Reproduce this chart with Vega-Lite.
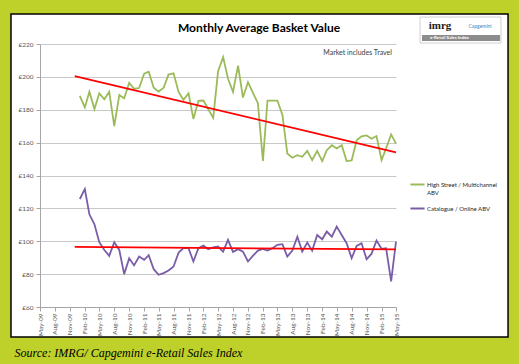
{
  "$schema": "https://vega.github.io/schema/vega-lite/v6.json",
  "width": 356,
  "height": 263,
  "autosize": "none",
  "padding": {"left": 40, "top": 44, "right": 123, "bottom": 57},
  "background": "white",
  "config": {"view": {"stroke": null}, "font": "Lato", "axis": {"labelOverlap": false, "labelBound": false, "labelFlush": false}},
  "title": {"text": "Monthly Average Basket Value", "font": "Lato", "fontSize": 12, "fontWeight": "bold", "color": "#000000", "anchor": "middle", "frame": "group", "dx": 41, "offset": -81},
  "datasets": {
    "abv": [
      {"date": "2010-01-01T00:00", "series": "High Street / Multichannel ABV", "value": 188.4},
      {"date": "2010-02-01T00:00", "series": "High Street / Multichannel ABV", "value": 181.4},
      {"date": "2010-03-01T00:00", "series": "High Street / Multichannel ABV", "value": 191},
      {"date": "2010-04-01T00:00", "series": "High Street / Multichannel ABV", "value": 180.4},
      {"date": "2010-05-01T00:00", "series": "High Street / Multichannel ABV", "value": 190},
      {"date": "2010-06-01T00:00", "series": "High Street / Multichannel ABV", "value": 186.4},
      {"date": "2010-07-01T00:00", "series": "High Street / Multichannel ABV", "value": 191},
      {"date": "2010-08-01T00:00", "series": "High Street / Multichannel ABV", "value": 170},
      {"date": "2010-09-01T00:00", "series": "High Street / Multichannel ABV", "value": 189},
      {"date": "2010-10-01T00:00", "series": "High Street / Multichannel ABV", "value": 187},
      {"date": "2010-11-01T00:00", "series": "High Street / Multichannel ABV", "value": 196.4},
      {"date": "2010-12-01T00:00", "series": "High Street / Multichannel ABV", "value": 192.8},
      {"date": "2011-01-01T00:00", "series": "High Street / Multichannel ABV", "value": 193.2},
      {"date": "2011-02-01T00:00", "series": "High Street / Multichannel ABV", "value": 202},
      {"date": "2011-03-01T00:00", "series": "High Street / Multichannel ABV", "value": 203.2},
      {"date": "2011-04-01T00:00", "series": "High Street / Multichannel ABV", "value": 193.4},
      {"date": "2011-05-01T00:00", "series": "High Street / Multichannel ABV", "value": 191},
      {"date": "2011-06-01T00:00", "series": "High Street / Multichannel ABV", "value": 193.4},
      {"date": "2011-07-01T00:00", "series": "High Street / Multichannel ABV", "value": 201.4},
      {"date": "2011-08-01T00:00", "series": "High Street / Multichannel ABV", "value": 202.2},
      {"date": "2011-09-01T00:00", "series": "High Street / Multichannel ABV", "value": 190.8},
      {"date": "2011-10-01T00:00", "series": "High Street / Multichannel ABV", "value": 186},
      {"date": "2011-11-01T00:00", "series": "High Street / Multichannel ABV", "value": 190},
      {"date": "2011-12-01T00:00", "series": "High Street / Multichannel ABV", "value": 174.4},
      {"date": "2012-01-01T00:00", "series": "High Street / Multichannel ABV", "value": 185.4},
      {"date": "2012-02-01T00:00", "series": "High Street / Multichannel ABV", "value": 185.6},
      {"date": "2012-03-01T00:00", "series": "High Street / Multichannel ABV", "value": 180.4},
      {"date": "2012-04-01T00:00", "series": "High Street / Multichannel ABV", "value": 175},
      {"date": "2012-05-01T00:00", "series": "High Street / Multichannel ABV", "value": 203.4},
      {"date": "2012-06-01T00:00", "series": "High Street / Multichannel ABV", "value": 212},
      {"date": "2012-07-01T00:00", "series": "High Street / Multichannel ABV", "value": 199},
      {"date": "2012-08-01T00:00", "series": "High Street / Multichannel ABV", "value": 190.8},
      {"date": "2012-09-01T00:00", "series": "High Street / Multichannel ABV", "value": 206.8},
      {"date": "2012-10-01T00:00", "series": "High Street / Multichannel ABV", "value": 187.4},
      {"date": "2012-11-01T00:00", "series": "High Street / Multichannel ABV", "value": 196.8},
      {"date": "2012-12-01T00:00", "series": "High Street / Multichannel ABV", "value": 190.4},
      {"date": "2013-01-01T00:00", "series": "High Street / Multichannel ABV", "value": 184},
      {"date": "2013-02-01T00:00", "series": "High Street / Multichannel ABV", "value": 148.8},
      {"date": "2013-03-01T00:00", "series": "High Street / Multichannel ABV", "value": 185.6},
      {"date": "2013-04-01T00:00", "series": "High Street / Multichannel ABV", "value": 185.6},
      {"date": "2013-05-01T00:00", "series": "High Street / Multichannel ABV", "value": 185.6},
      {"date": "2013-06-01T00:00", "series": "High Street / Multichannel ABV", "value": 176.8},
      {"date": "2013-07-01T00:00", "series": "High Street / Multichannel ABV", "value": 153.4},
      {"date": "2013-08-01T00:00", "series": "High Street / Multichannel ABV", "value": 150.8},
      {"date": "2013-09-01T00:00", "series": "High Street / Multichannel ABV", "value": 152.4},
      {"date": "2013-10-01T00:00", "series": "High Street / Multichannel ABV", "value": 151.4},
      {"date": "2013-11-01T00:00", "series": "High Street / Multichannel ABV", "value": 155},
      {"date": "2013-12-01T00:00", "series": "High Street / Multichannel ABV", "value": 149.4},
      {"date": "2014-01-01T00:00", "series": "High Street / Multichannel ABV", "value": 155},
      {"date": "2014-02-01T00:00", "series": "High Street / Multichannel ABV", "value": 148.8},
      {"date": "2014-03-01T00:00", "series": "High Street / Multichannel ABV", "value": 155.4},
      {"date": "2014-04-01T00:00", "series": "High Street / Multichannel ABV", "value": 158.4},
      {"date": "2014-05-01T00:00", "series": "High Street / Multichannel ABV", "value": 156.4},
      {"date": "2014-06-01T00:00", "series": "High Street / Multichannel ABV", "value": 158.4},
      {"date": "2014-07-01T00:00", "series": "High Street / Multichannel ABV", "value": 148.8},
      {"date": "2014-08-01T00:00", "series": "High Street / Multichannel ABV", "value": 149.2},
      {"date": "2014-09-01T00:00", "series": "High Street / Multichannel ABV", "value": 161.4},
      {"date": "2014-10-01T00:00", "series": "High Street / Multichannel ABV", "value": 163.8},
      {"date": "2014-11-01T00:00", "series": "High Street / Multichannel ABV", "value": 164.4},
      {"date": "2014-12-01T00:00", "series": "High Street / Multichannel ABV", "value": 162.4},
      {"date": "2015-01-01T00:00", "series": "High Street / Multichannel ABV", "value": 164},
      {"date": "2015-02-01T00:00", "series": "High Street / Multichannel ABV", "value": 149.4},
      {"date": "2015-03-01T00:00", "series": "High Street / Multichannel ABV", "value": 156.4},
      {"date": "2015-04-01T00:00", "series": "High Street / Multichannel ABV", "value": 165},
      {"date": "2015-05-01T00:00", "series": "High Street / Multichannel ABV", "value": 159.4},
      {"date": "2010-01-01T00:00", "series": "Catalogue / Online ABV", "value": 125.7},
      {"date": "2010-02-01T00:00", "series": "Catalogue / Online ABV", "value": 131.7},
      {"date": "2010-03-01T00:00", "series": "Catalogue / Online ABV", "value": 116.4},
      {"date": "2010-04-01T00:00", "series": "Catalogue / Online ABV", "value": 110.3},
      {"date": "2010-05-01T00:00", "series": "Catalogue / Online ABV", "value": 99.4},
      {"date": "2010-06-01T00:00", "series": "Catalogue / Online ABV", "value": 94.7},
      {"date": "2010-07-01T00:00", "series": "Catalogue / Online ABV", "value": 91.1},
      {"date": "2010-08-01T00:00", "series": "Catalogue / Online ABV", "value": 99.4},
      {"date": "2010-09-01T00:00", "series": "Catalogue / Online ABV", "value": 94.7},
      {"date": "2010-10-01T00:00", "series": "Catalogue / Online ABV", "value": 80},
      {"date": "2010-11-01T00:00", "series": "Catalogue / Online ABV", "value": 89.7},
      {"date": "2010-12-01T00:00", "series": "Catalogue / Online ABV", "value": 85.3},
      {"date": "2011-01-01T00:00", "series": "Catalogue / Online ABV", "value": 90.7},
      {"date": "2011-02-01T00:00", "series": "Catalogue / Online ABV", "value": 88.7},
      {"date": "2011-03-01T00:00", "series": "Catalogue / Online ABV", "value": 91.5},
      {"date": "2011-04-01T00:00", "series": "Catalogue / Online ABV", "value": 83},
      {"date": "2011-05-01T00:00", "series": "Catalogue / Online ABV", "value": 79.6},
      {"date": "2011-06-01T00:00", "series": "Catalogue / Online ABV", "value": 80.6},
      {"date": "2011-07-01T00:00", "series": "Catalogue / Online ABV", "value": 82.2},
      {"date": "2011-08-01T00:00", "series": "Catalogue / Online ABV", "value": 84.6},
      {"date": "2011-09-01T00:00", "series": "Catalogue / Online ABV", "value": 93.1},
      {"date": "2011-10-01T00:00", "series": "Catalogue / Online ABV", "value": 95.8},
      {"date": "2011-11-01T00:00", "series": "Catalogue / Online ABV", "value": 95.8},
      {"date": "2011-12-01T00:00", "series": "Catalogue / Online ABV", "value": 87.7},
      {"date": "2012-01-01T00:00", "series": "Catalogue / Online ABV", "value": 95.8},
      {"date": "2012-02-01T00:00", "series": "Catalogue / Online ABV", "value": 97.4},
      {"date": "2012-03-01T00:00", "series": "Catalogue / Online ABV", "value": 95.2},
      {"date": "2012-04-01T00:00", "series": "Catalogue / Online ABV", "value": 96.2},
      {"date": "2012-05-01T00:00", "series": "Catalogue / Online ABV", "value": 96.8},
      {"date": "2012-06-01T00:00", "series": "Catalogue / Online ABV", "value": 93.7},
      {"date": "2012-07-01T00:00", "series": "Catalogue / Online ABV", "value": 100.8},
      {"date": "2012-08-01T00:00", "series": "Catalogue / Online ABV", "value": 93.5},
      {"date": "2012-09-01T00:00", "series": "Catalogue / Online ABV", "value": 95.2},
      {"date": "2012-10-01T00:00", "series": "Catalogue / Online ABV", "value": 93.7},
      {"date": "2012-11-01T00:00", "series": "Catalogue / Online ABV", "value": 87.7},
      {"date": "2012-12-01T00:00", "series": "Catalogue / Online ABV", "value": 91.1},
      {"date": "2013-01-01T00:00", "series": "Catalogue / Online ABV", "value": 94.3},
      {"date": "2013-02-01T00:00", "series": "Catalogue / Online ABV", "value": 95.4},
      {"date": "2013-03-01T00:00", "series": "Catalogue / Online ABV", "value": 94.3},
      {"date": "2013-04-01T00:00", "series": "Catalogue / Online ABV", "value": 95.8},
      {"date": "2013-05-01T00:00", "series": "Catalogue / Online ABV", "value": 97.8},
      {"date": "2013-06-01T00:00", "series": "Catalogue / Online ABV", "value": 98.2},
      {"date": "2013-07-01T00:00", "series": "Catalogue / Online ABV", "value": 90.7},
      {"date": "2013-08-01T00:00", "series": "Catalogue / Online ABV", "value": 94.3},
      {"date": "2013-09-01T00:00", "series": "Catalogue / Online ABV", "value": 102.8},
      {"date": "2013-10-01T00:00", "series": "Catalogue / Online ABV", "value": 93.7},
      {"date": "2013-11-01T00:00", "series": "Catalogue / Online ABV", "value": 99.2},
      {"date": "2013-12-01T00:00", "series": "Catalogue / Online ABV", "value": 94.3},
      {"date": "2014-01-01T00:00", "series": "Catalogue / Online ABV", "value": 103.8},
      {"date": "2014-02-01T00:00", "series": "Catalogue / Online ABV", "value": 101.2},
      {"date": "2014-03-01T00:00", "series": "Catalogue / Online ABV", "value": 105.9},
      {"date": "2014-04-01T00:00", "series": "Catalogue / Online ABV", "value": 102.8},
      {"date": "2014-05-01T00:00", "series": "Catalogue / Online ABV", "value": 108.9},
      {"date": "2014-06-01T00:00", "series": "Catalogue / Online ABV", "value": 103.8},
      {"date": "2014-07-01T00:00", "series": "Catalogue / Online ABV", "value": 98.8},
      {"date": "2014-08-01T00:00", "series": "Catalogue / Online ABV", "value": 89.7},
      {"date": "2014-09-01T00:00", "series": "Catalogue / Online ABV", "value": 97.2},
      {"date": "2014-10-01T00:00", "series": "Catalogue / Online ABV", "value": 98.8},
      {"date": "2014-11-01T00:00", "series": "Catalogue / Online ABV", "value": 89.1},
      {"date": "2014-12-01T00:00", "series": "Catalogue / Online ABV", "value": 92.3},
      {"date": "2015-01-01T00:00", "series": "Catalogue / Online ABV", "value": 100.4},
      {"date": "2015-02-01T00:00", "series": "Catalogue / Online ABV", "value": 95.4},
      {"date": "2015-03-01T00:00", "series": "Catalogue / Online ABV", "value": 95.8},
      {"date": "2015-04-01T00:00", "series": "Catalogue / Online ABV", "value": 75.6},
      {"date": "2015-05-01T00:00", "series": "Catalogue / Online ABV", "value": 99.8}
    ],
    "trend": [
      {"date": "2009-12-01T00:00", "series": "High Street trend", "value": 200.5},
      {"date": "2015-05-01T00:00", "series": "High Street trend", "value": 154},
      {"date": "2009-12-01T00:00", "series": "Catalogue trend", "value": 96.6},
      {"date": "2015-05-01T00:00", "series": "Catalogue trend", "value": 95}
    ]
  },
  "layer": [
    {
      "data": {"name": "abv"},
      "mark": {"type": "line", "strokeWidth": 1.8},
      "encoding": {
        "x": {
          "field": "date", "type": "temporal",
          "scale": {"domain": [{"year": 2009, "month": 5, "date": 1}, {"year": 2015, "month": 5, "date": 1}]},
          "axis": {
            "values": [
              {"year": 2009, "month": 5, "date": 1}, {"year": 2009, "month": 8, "date": 1}, {"year": 2009, "month": 11, "date": 1},
              {"year": 2010, "month": 2, "date": 1}, {"year": 2010, "month": 5, "date": 1}, {"year": 2010, "month": 8, "date": 1}, {"year": 2010, "month": 11, "date": 1},
              {"year": 2011, "month": 2, "date": 1}, {"year": 2011, "month": 5, "date": 1}, {"year": 2011, "month": 8, "date": 1}, {"year": 2011, "month": 11, "date": 1},
              {"year": 2012, "month": 2, "date": 1}, {"year": 2012, "month": 5, "date": 1}, {"year": 2012, "month": 8, "date": 1}, {"year": 2012, "month": 11, "date": 1},
              {"year": 2013, "month": 2, "date": 1}, {"year": 2013, "month": 5, "date": 1}, {"year": 2013, "month": 8, "date": 1}, {"year": 2013, "month": 11, "date": 1},
              {"year": 2014, "month": 2, "date": 1}, {"year": 2014, "month": 5, "date": 1}, {"year": 2014, "month": 8, "date": 1}, {"year": 2014, "month": 11, "date": 1},
              {"year": 2015, "month": 2, "date": 1}, {"year": 2015, "month": 5, "date": 1}
            ],
            "tickCount": 40,
            "format": "%b-%y", "labelAngle": -90, "labelFontSize": 6.5, "labelColor": "#595959", "labelFont": "Lato",
            "labelPadding": 2, "labelOverlap": false, "labelFlush": false, "labelBound": false,
            "domainColor": "#A6A6A6", "tickColor": "#A6A6A6", "tickSize": 4, "grid": false,
            "title": "Source: IMRG/ Capgemini e-Retail Sales Index",
            "titleFont": "Liberation Serif", "titleFontStyle": "italic", "titleFontWeight": "normal", "titleFontSize": 12, "titleColor": "#000000",
            "titleAnchor": "start", "titleAlign": "left", "titleBaseline": "middle", "titleX": -26, "titleY": 45,
            "zindex": 1
          }
        },
        "y": {
          "field": "value", "type": "quantitative",
          "scale": {"domain": [60, 220], "nice": false, "zero": false},
          "axis": {
            "values": [60, 80, 100, 120, 140, 160, 180, 200, 220],
            "tickCount": 20,
            "labelExpr": "'£' + datum.value", "labelFontSize": 6.5, "labelColor": "#595959", "labelFont": "Lato",
            "labelPadding": 3, "labelOverlap": false, "tickSize": 4, "tickColor": "#A6A6A6", "domainColor": "#A6A6A6",
            "gridColor": "#C8C8C8", "gridWidth": 1, "title": null
          }
        },
        "color": {
          "field": "series", "type": "nominal",
          "scale": {"domain": ["High Street / Multichannel ABV", "Catalogue / Online ABV"], "range": ["#9BBB59", "#7A5DA8"]},
          "legend": {
            "orient": "none", "legendX": 369, "legendY": 132, "title": null,
            "symbolType": "stroke", "symbolStrokeWidth": 2, "symbolSize": 200,
            "labelFont": "Lato", "labelFontSize": 6, "labelColor": "#262626", "labelOffset": 1,
            "rowPadding": 4, "labelLimit": 200,
            "labelExpr": "datum.label == 'High Street / Multichannel ABV' ? ['High Street / Multichannel', 'ABV'] : datum.label"
          }
        }
      }
    },
    {
      "data": {"name": "trend"},
      "mark": {"type": "line", "color": "#FF0000", "strokeWidth": 1.8},
      "encoding": {
        "x": {"field": "date", "type": "temporal"},
        "y": {"field": "value", "type": "quantitative"},
        "detail": {"field": "series", "type": "nominal"}
      }
    },
    {
      "data": {"values": [{"note": "Market includes Travel"}]},
      "mark": {"type": "text", "align": "right", "baseline": "middle", "fontSize": 7, "font": "Lato", "color": "#404040"},
      "encoding": {
        "x": {"datum": {"year": 2015, "month": 4, "date": 6}, "type": "temporal"},
        "y": {"datum": 214.5, "type": "quantitative"},
        "text": {"field": "note"}
      }
    },
    {
      "data": {"values": [{}]},
      "mark": {"type": "rect", "fillOpacity": 0, "stroke": "#BED02A", "strokeWidth": 60},
      "encoding": {
        "x": {"datum": {"year": 2008, "month": 5, "date": 3}, "type": "temporal"},
        "x2": {"datum": {"year": 2017, "month": 9, "date": 21}},
        "y": {"datum": 256.5, "type": "quantitative"},
        "y2": {"datum": 23.5}
      }
    },
    {
      "data": {"values": [{}]},
      "mark": {"type": "rect", "fillOpacity": 0, "stroke": "#000000", "strokeWidth": 1.5},
      "encoding": {
        "x": {"datum": {"year": 2008, "month": 11, "date": 3, "hours": 10}, "type": "temporal"},
        "x2": {"datum": {"year": 2017, "month": 3, "date": 20, "hours": 14}},
        "y": {"datum": 238.25, "type": "quantitative"},
        "y2": {"datum": 41.75}
      }
    },
    {
      "data": {"values": [{}]},
      "mark": {"type": "rect", "fill": "#FFFFFF", "stroke": "#D0D0D0", "strokeWidth": 1},
      "encoding": {
        "x": {"datum": {"year": 2015, "month": 9, "date": 26}, "type": "temporal"},
        "x2": {"datum": {"year": 2017, "month": 2, "date": 5}},
        "y": {"datum": 236.4, "type": "quantitative"},
        "y2": {"datum": 220.6}
      }
    },
    {
      "data": {"values": [{}]},
      "mark": {"type": "rect", "fill": "#8C8C8C"},
      "encoding": {
        "x": {"datum": {"year": 2015, "month": 10, "date": 8}, "type": "temporal"},
        "x2": {"datum": {"year": 2017, "month": 1, "date": 30}},
        "y": {"datum": 225.5, "type": "quantitative"},
        "y2": {"datum": 221.8}
      }
    },
    {
      "data": {"values": [{"label": "imrg"}]},
      "mark": {"type": "text", "align": "center", "baseline": "middle", "fontSize": 11, "font": "Liberation Serif", "fontWeight": "bold", "color": "#1A1A1A"},
      "encoding": {
        "x": {"datum": {"year": 2016, "month": 1, "date": 27}, "type": "temporal"},
        "y": {"datum": 230.9, "type": "quantitative"},
        "text": {"field": "label"}
      }
    },
    {
      "data": {"values": [{"label": "Capgemini"}]},
      "mark": {"type": "text", "align": "center", "baseline": "middle", "fontSize": 5, "font": "Lato", "color": "#2F8AC8"},
      "encoding": {
        "x": {"datum": {"year": 2016, "month": 9, "date": 29}, "type": "temporal"},
        "y": {"datum": 230.9, "type": "quantitative"},
        "text": {"field": "label"}
      }
    },
    {
      "data": {"values": [{"label": "e-Retail Sales Index"}]},
      "mark": {"type": "text", "align": "left", "baseline": "middle", "fontSize": 4.5, "font": "Lato", "fontWeight": "bold", "color": "#FFFFFF"},
      "encoding": {
        "x": {"datum": {"year": 2015, "month": 11, "date": 26}, "type": "temporal"},
        "y": {"datum": 223.65, "type": "quantitative"},
        "text": {"field": "label"}
      }
    }
  ]
}
